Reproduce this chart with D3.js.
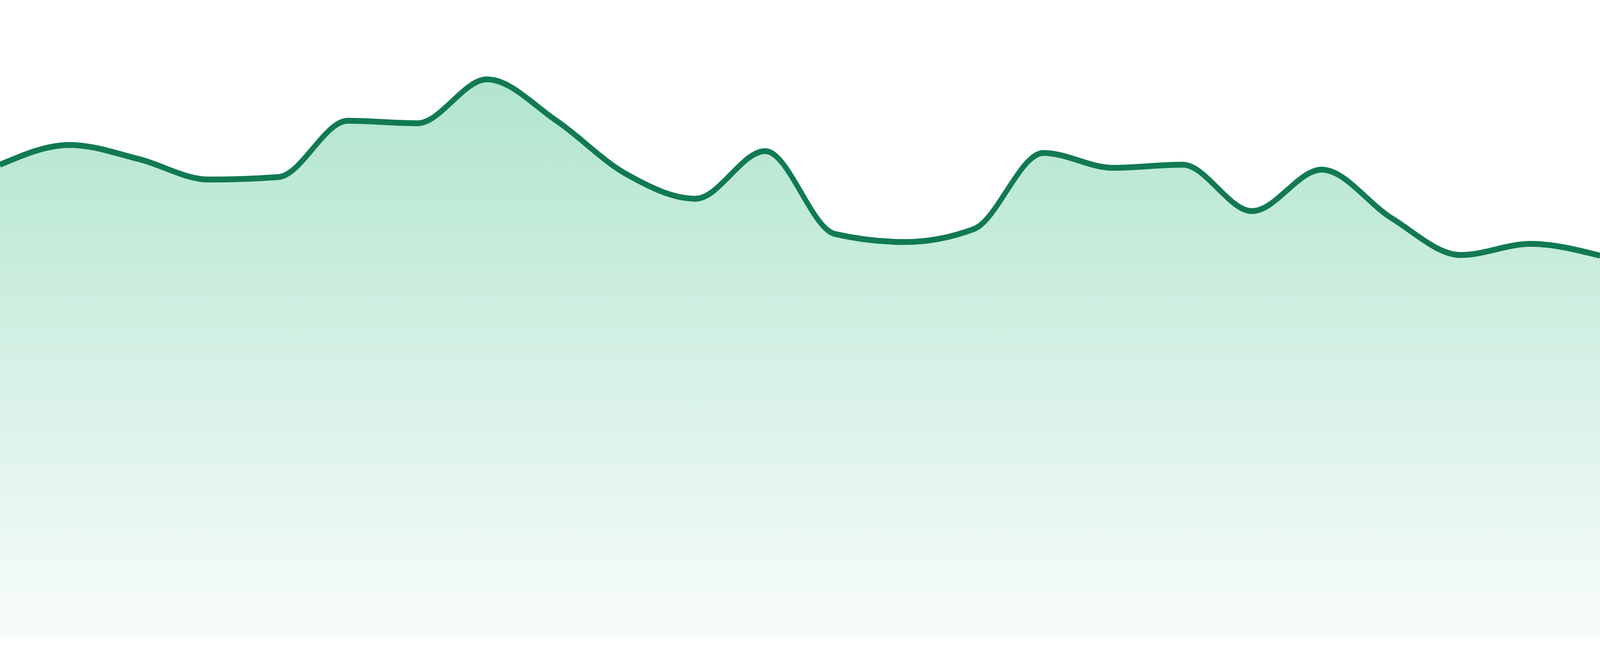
<!DOCTYPE html>
<html>
<head>
<meta charset="utf-8">
<title>Area sparkline</title>
<script src="https://cdn.jsdelivr.net/npm/d3@7"></script>
<style>
  html, body { margin: 0; padding: 0; background: #fff; overflow: hidden; }
  svg { display: block; width: 100vw; height: 100vh; }
</style>
</head>
<body>
<div id="chart"></div>
<script>
  // 24 evenly spaced samples
  var points = d3.range(24);
  var values = [76.4, 79.6, 77.3, 74.0, 74.4, 83.5, 83.1, 90.2, 83.5, 74.9, 70.9, 78.6,
                65.2, 63.9, 66.0, 78.3, 75.9, 76.4, 68.9, 75.6, 67.8, 61.8, 63.6, 61.7];
  var yDomain = [0, 100];

  var width = 4800, height = 1680;
  var margin = {top: 48, bottom: 48};

  // drawn in a fixed 4800x1680 space, stretched to the window
  var svg = d3.select('#chart')
    .append('svg')
    .attr('viewBox', '0 0 ' + width + ' ' + height)
    .attr('preserveAspectRatio', 'none');

  var x = d3.scaleLinear()
    .domain([0, points.length - 1])
    .range([0, width]);

  var y = d3.scaleLinear()
    .domain(yDomain)
    .range([height - margin.bottom, margin.top]);

  var data = points.map(function(p, i) { return {i: p, v: values[i]}; });

  var grad = svg.append('defs')
    .append('linearGradient')
    .attr('id', 'fillGrad')
    .attr('gradientUnits', 'userSpaceOnUse')
    .attr('x1', 0).attr('x2', 0)
    .attr('y1', y(d3.max(values)))
    .attr('y2', y(0));
  grad.append('stop').attr('offset', '0%').attr('stop-color', '#b1e5ce');
  grad.append('stop').attr('offset', '100%').attr('stop-color', '#f8fcfb');

  var area = d3.area()
    .curve(d3.curveMonotoneX)
    .x(function(d) { return x(d.i); })
    .y0(y(0))
    .y1(function(d) { return y(d.v); });

  var line = d3.line()
    .curve(d3.curveMonotoneX)
    .x(function(d) { return x(d.i); })
    .y(function(d) { return y(d.v); });

  svg.append('path')
    .datum(data)
    .attr('d', area)
    .attr('fill', 'url(#fillGrad)');

  svg.append('path')
    .datum(data)
    .attr('d', line)
    .attr('fill', 'none')
    .attr('stroke', '#117a52')
    .attr('stroke-width', 15)
    .attr('stroke-linejoin', 'round');
</script>
</body>
</html>
